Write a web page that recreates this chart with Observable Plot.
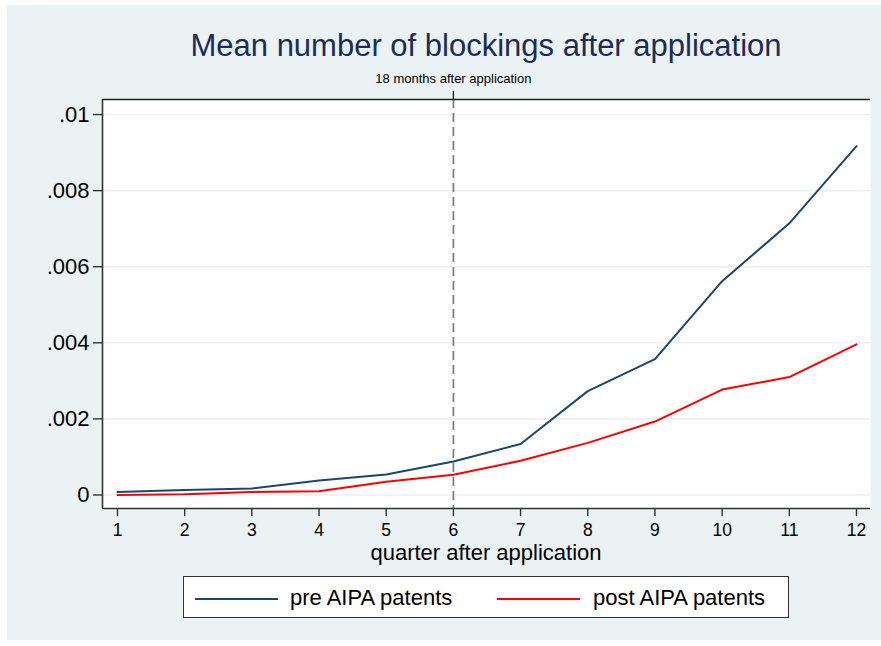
<!DOCTYPE html>
<html>
<head>
<meta charset="utf-8">
<script src="https://cdn.jsdelivr.net/npm/d3@7"></script>
<script src="https://cdn.jsdelivr.net/npm/@observablehq/plot@0.6"></script>
<style>
  html, body { margin: 0; padding: 0; background: white; }
  #wrap { position: relative; width: 881px; height: 646px; overflow: hidden; background: white;
          font-family: "Liberation Sans", Arial, Helvetica, sans-serif; }
  #panel { position: absolute; left: 7px; top: 5px; width: 880px; height: 635px; background: #eaf2f3; }
  #chart { position: absolute; left: 0; top: 0; }
  .txt { position: absolute; white-space: nowrap; }
  #title { left: 0; width: 972px; top: 28px; text-align: center; font-size: 31px; color: #1c2b58; }
  #xtitle { left: 102px; width: 768px; top: 540px; text-align: center; font-size: 22px; color: #000; }
  #legend { position: absolute; left: 183px; top: 576px; width: 604px; height: 40px; background: white;
            border: 1px solid #333; }
  .sw { position: absolute; top: 21px; width: 83px; height: 0; border-top: 2px solid; }
  .lt { position: absolute; top: 8px; font-size: 22px; color: #000; }
</style>
</head>
<body>
<div id="wrap">
  <div id="panel"></div>
  <div id="chart"></div>
  <div id="title" class="txt">Mean number of blockings after application</div>
  <div id="xtitle" class="txt">quarter after application</div>
  <div id="legend">
    <div class="sw" style="left:11px;border-color:#1a476f"></div>
    <div class="lt" style="left:106px">pre AIPA patents</div>
    <div class="sw" style="left:313px;border-color:#ff0000"></div>
    <div class="lt" style="left:409px">post AIPA patents</div>
  </div>
</div>
<script>
const quarters = [1, 2, 3, 4, 5, 6, 7, 8, 9, 10, 11, 12];
const prePatents = [0.00008, 0.00013, 0.00017, 0.00038, 0.00054, 0.00088, 0.00134, 0.00273, 0.00357, 0.00562, 0.00714, 0.00917];
const postPatents = [0.00000, 0.00002, 0.00008, 0.00010, 0.00035, 0.00053, 0.00090, 0.00137, 0.00193, 0.00277, 0.00310, 0.00396];
const yTicks = [0, 0.002, 0.004, 0.006, 0.008, 0.01];
const yTickLabels = ["0", ".002", ".004", ".006", ".008", ".01"];
const markerQuarter = [6];
const markerLabel = ["18 months after application"];

const pre = quarters.map((q, i) => ({q, v: prePatents[i]}));
const post = quarters.map((q, i) => ({q, v: postPatents[i]}));

const xDomain = [0.7767, 12.2084];
const yDomain = [-0.000355, 0.010395];

const chart = Plot.plot({
  width: 881,
  height: 646,
  marginLeft: 102,
  marginRight: 11,
  marginTop: 99,
  marginBottom: 138,
  style: {background: "transparent", overflow: "visible", fontFamily: "Liberation Sans, Arial, sans-serif", color: "#000"},
  x: {domain: xDomain, axis: null},
  y: {domain: yDomain, axis: null},
  marks: [
    Plot.frame({fill: "white", stroke: null}),
    Plot.ruleY(yTicks, {stroke: "#eaf2f3", strokeWidth: 1.6}),
    Plot.ruleX(markerQuarter, {stroke: "#808080", strokeWidth: 1.8, strokeDasharray: "9,5"}),
    Plot.line(pre, {x: "q", y: "v", stroke: "#1a476f", strokeWidth: 2}),
    Plot.line(post, {x: "q", y: "v", stroke: "#ff0000", strokeWidth: 2}),
    // axis lines
    Plot.ruleX([xDomain[0]], {stroke: "#333", strokeWidth: 1.6}),
    Plot.ruleY([yDomain[0]], {stroke: "#333", strokeWidth: 1.6}),
    Plot.ruleY([yDomain[1]], {stroke: "#222", strokeWidth: 1.4}),
    // bottom axis
    Plot.axisX(quarters, {anchor: "bottom", tickSize: 8, tickPadding: 7, fontSize: 17.5, stroke: "#333", strokeWidth: 1.4, label: null, tickFormat: d => String(d)}),
    // left axis
    Plot.axisY(yTicks, {anchor: "left", tickSize: 9, tickPadding: 4, fontSize: 22, stroke: "#333", strokeWidth: 1.4, label: null, tickFormat: (d) => yTickLabels[yTicks.indexOf(d)]}),
    // top alternate axis with label
    Plot.axisX(markerQuarter, {anchor: "top", tickSize: 9, tickPadding: 8, fontSize: 13, stroke: "#222", strokeWidth: 1.4, label: null, tickFormat: (d) => markerLabel[markerQuarter.indexOf(d)]})
  ]
});
document.getElementById("chart").appendChild(chart);
</script>
</body>
</html>
